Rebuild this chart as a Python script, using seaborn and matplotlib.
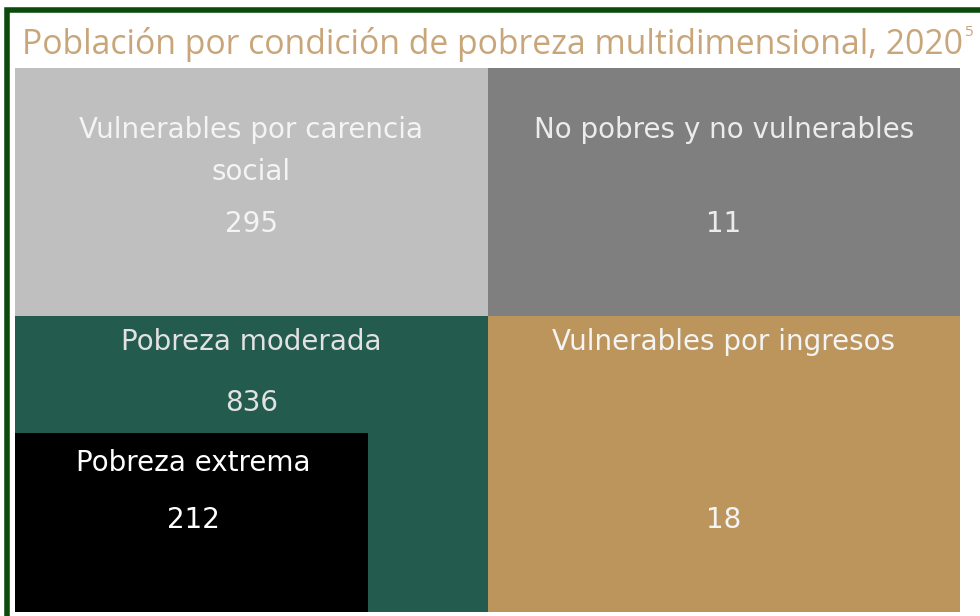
import matplotlib
matplotlib.use("Agg")
import matplotlib.pyplot as plt
from matplotlib.colors import ListedColormap
from matplotlib.patches import Rectangle
import numpy as np
import pandas as pd
import seaborn as sns

# Data (thousands of people by quadrant)
labels = ["Vulnerables por carencia\nsocial", "No pobres y no vulnerables",
          "Pobreza moderada", "Vulnerables por ingresos"]
values = [295, 11, 836, 18]
extreme_label = "Pobreza extrema"
extreme_value = 212
colors = ["#bfbfbf", "#7f7f7f", "#235b4e", "#bc955c"]
text_colors = ["#f4f4f4", "#ececec", "#e2e2e2", "#f4f4f4"]
row_weights = [31, 37]   # top row is a bit shorter than the bottom one

sns.set_theme(style="white")
plt.rcParams['font.family'] = ['DejaVu Sans']

fig = plt.figure(figsize=(9.8, 6.16), dpi=100)
ax = fig.add_axes([15/980, 4/616, 945/980, 544/616])

codes = np.arange(4).reshape(2, 2)
grid = pd.DataFrame(np.repeat(codes, row_weights, axis=0))
sns.heatmap(grid, cmap=ListedColormap(colors), cbar=False, ax=ax,
            xticklabels=False, yticklabels=False, vmin=-0.5, vmax=3.5)

H = sum(row_weights)
ax.set_xlim(0, 2)
ax.set_ylim(H, 0)
ax.axis("off")

# positions as fraction of plot height (from top)
def fy(f):
    return f * H

# nested box for extreme poverty
ax.add_patch(Rectangle((0, fy(365/544)), 0.747, fy(179/544), facecolor="black", edgecolor="none"))

fs = 20
lab_y = [83/544, 62/544, 274/544, 274/544]
val_y = [156/544, 156/544, 335/544, 452/544]
for i in range(4):
    r, c = divmod(i, 2)
    ax.text(c + 0.5, fy(lab_y[i]), labels[i], ha="center", va="center",
            color=text_colors[i], fontsize=fs, linespacing=1.65)
    ax.text(c + 0.5, fy(val_y[i]), str(values[i]), ha="center", va="center",
            color=text_colors[i], fontsize=fs)
ax.text(0.377, fy(395/544), extreme_label, ha="center", va="center", color="white", fontsize=fs)
ax.text(0.377, fy(452/544), str(extreme_value), ha="center", va="center", color="white", fontsize=fs)

title = fig.text(22/980, 1 - 45/616, "Población por condición de pobreza multidimensional, 2020",
                 color="#c8a67a", fontsize=24.3, family="Open Sans", va="center")
fig.canvas.draw()
bb = title.get_window_extent()
fig.text(bb.x1 / 980 + 0.001, 1 - 33/616, "5", color="#c8a67a", fontsize=11,
         family="Open Sans", va="center")

# dark green frame (only top/left visible)
fig.patches.append(Rectangle((7/980, -0.1), 1.2, 1 - 10/616 + 0.1, transform=fig.transFigure,
                             facecolor="none", edgecolor="#0b4a0b", linewidth=4))

fig.savefig("out.png", dpi=100)
